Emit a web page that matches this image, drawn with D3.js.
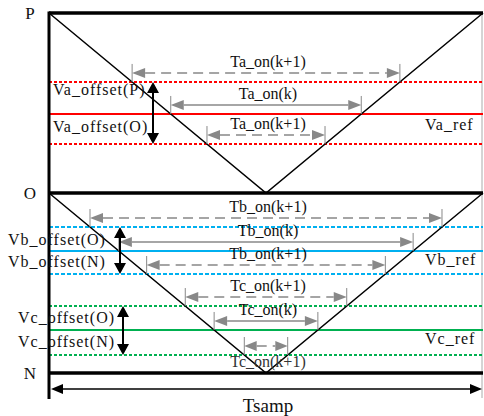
<!DOCTYPE html>
<html>
<head>
<meta charset="utf-8">
<script src="https://cdn.jsdelivr.net/npm/d3@7"></script>
<style>
  body { margin: 0; background: #fff; }
  svg { display: block; }
  text { font-family: "Liberation Serif", "Times New Roman", serif; fill: #111; }
</style>
</head>
<body>
<div id="chart"></div>
<script>
// --- data ---
const levelNames = ["P", "O", "N"];
const levelValues = [1, 0, -1];

// two carriers: time points and their voltages
const carrierTimes = [0, 0.5, 1];
const carrierUpper = [1, 0, 1];   // between P and O
const carrierLower = [0, -1, 0];  // between O and N

const phases = ["a", "b", "c"];
const refLevels = [0.439, -0.322, -0.761];
const offsetHigh = [0.617, -0.189, -0.628];
const offsetLow = [0.272, -0.45, -0.9];
const refLabels = ["Va_ref", "Vb_ref", "Vc_ref"];
const offsetLabels = [
  ["Va_offset(P)", "Va_offset(O)"],
  ["Vb_offset(O)", "Vb_offset(N)"],
  ["Vc_offset(O)", "Vc_offset(N)"]
];
const onLabels = [
  ["Ta_on(k+1)", "Ta_on(k)", "Ta_on(k+1)"],
  ["Tb_on(k+1)", "Tb_on(k)", "Tb_on(k+1)"],
  ["Tc_on(k+1)", "Tc_on(k)", "Tc_on(k+1)"]
];
const timeLabel = "Tsamp";

// --- layout / style ---
const width = 484, height = 416;
const colors = ["#ff0000", "#00b0f0", "#00b050"];
const dotPattern = ["3,2", "4,2", "3,2"];
const phaseCarrier = [carrierUpper, carrierLower, carrierLower];
const offsetLabelX = [53, 8, 18];
const offsetLabelDy = [[-19, 18], [-6, 16], [-7, 17]];
const doubleArrowX = [153, 120, 123];
const gray = "#888888";

const x = d3.scaleLinear().domain([0, 1]).range([49, 483]);
const y = d3.scaleLinear().domain([-1, 1]).range([373, 13]);

const svg = d3.select("#chart").append("svg")
  .attr("width", width).attr("height", height);

// right thin gray border
svg.append("line")
  .attr("x1", 482).attr("x2", 482)
  .attr("y1", y(1)).attr("y2", 398)
  .attr("stroke", "#aaa").attr("stroke-width", 1);

// crossing times of a level with a carrier (linear segments)
function crossings(carrier, v) {
  const out = [];
  for (let i = 0; i < carrierTimes.length - 1; i++) {
    const a = carrier[i], b = carrier[i + 1];
    if ((v - a) * (v - b) <= 0 && a !== b) {
      out.push(carrierTimes[i] + (v - a) / (b - a) * (carrierTimes[i + 1] - carrierTimes[i]));
    }
  }
  return out;
}

function head(px, py, dir, len, half) {
  // dir = +1 points right, -1 points left
  return `M${px},${py}L${px - dir * len},${py - half}L${px - dir * len},${py + half}Z`;
}

// reference and offset lines
phases.forEach((p, i) => {
  const g = svg.append("g");
  [offsetHigh[i], offsetLow[i]].forEach(v => {
    g.append("line")
      .attr("x1", x(0)).attr("x2", x(1))
      .attr("y1", y(v)).attr("y2", y(v))
      .attr("stroke", colors[i]).attr("stroke-width", 2)
      .attr("stroke-dasharray", dotPattern[i]);
  });
  g.append("line")
    .attr("x1", x(0)).attr("x2", x(1))
    .attr("y1", y(refLevels[i])).attr("y2", y(refLevels[i]))
    .attr("stroke", colors[i]).attr("stroke-width", 2);
});

// carriers
const carrierLine = d3.line().x(d => x(d[0])).y(d => y(d[1]));
[carrierUpper, carrierLower].forEach(c => {
  svg.append("path")
    .attr("d", carrierLine(carrierTimes.map((t, j) => [t, c[j]])))
    .attr("fill", "none").attr("stroke", "#000").attr("stroke-width", 1.5);
});

// thick level lines P, O, N
levelValues.forEach((v, i) => {
  svg.append("line")
    .attr("x1", x(0)).attr("x2", x(1))
    .attr("y1", y(v)).attr("y2", y(v))
    .attr("stroke", "#000").attr("stroke-width", 3.5);
  svg.append("text")
    .attr("x", 30).attr("y", y(v) + 6)
    .attr("text-anchor", "middle")
    .style("font-size", "17px")
    .text(levelNames[i]);
});

// left axis line
svg.append("line")
  .attr("x1", x(0)).attr("x2", x(0))
  .attr("y1", y(1) - 1.5).attr("y2", 399)
  .attr("stroke", "#000").attr("stroke-width", 3);

// on-time arrows
phases.forEach((p, i) => {
  const levels = [offsetHigh[i], refLevels[i], offsetLow[i]];
  levels.forEach((v, k) => {
    const [t1, t2] = crossings(phaseCarrier[i], v);
    const x1 = x(t1), x2 = x(t2);
    const ly = y(v);
    const ay = ly - 9;
    const g = svg.append("g");
    [x1, x2].forEach(xx => {
      g.append("line")
        .attr("x1", xx).attr("x2", xx)
        .attr("y1", ay - 9).attr("y2", ly)
        .attr("stroke", gray).attr("stroke-width", 1);
    });
    const hl = Math.min(13, (x2 - x1) / 3.5);
    g.append("line")
      .attr("x1", x1 + hl).attr("x2", x2 - hl)
      .attr("y1", ay).attr("y2", ay)
      .attr("stroke", gray).attr("stroke-width", 1.5)
      .attr("stroke-dasharray", k === 1 ? null : "10,6");
    g.append("path").attr("d", head(x1, ay, -1, hl, 5)).attr("fill", gray);
    g.append("path").attr("d", head(x2, ay, 1, hl, 5)).attr("fill", gray);

    const below = (i === 2 && k === 2);
    g.append("text")
      .attr("x", below ? (x1 + x2) / 2 + 2 : x(0.5) + 2)
      .attr("y", below ? ly + 12 : ay - 6)
      .attr("text-anchor", "middle")
      .style("font-size", "16px")
      .style("fill", below ? "#333" : "#111")
      .text(onLabels[i][k]);
  });
});

// offset labels, double arrows, ref labels
phases.forEach((p, i) => {
  const yr = y(refLevels[i]);
  offsetLabels[i].forEach((lab, k) => {
    svg.append("text")
      .attr("x", offsetLabelX[i]).attr("y", yr + offsetLabelDy[i][k])
      .style("font-size", "16px")
      .style("letter-spacing", "1px")
      .text(lab);
  });
  const xa = doubleArrowX[i];
  const yt = y(offsetHigh[i]), yb = y(offsetLow[i]);
  svg.append("line")
    .attr("x1", xa).attr("x2", xa)
    .attr("y1", yt + 8).attr("y2", yb - 8)
    .attr("stroke", "#000").attr("stroke-width", 2);
  svg.append("path")
    .attr("d", `M${xa},${yt}L${xa - 6},${yt + 11}L${xa + 6},${yt + 11}Z` +
               `M${xa},${yb}L${xa - 6},${yb - 11}L${xa + 6},${yb - 11}Z`)
    .attr("fill", "#000");
  svg.append("text")
    .attr("x", 425).attr("y", yr + (i === 0 ? 16 : 14))
    .style("font-size", "16px")
    .style("letter-spacing", "1px")
    .text(refLabels[i]);
});

// Tsamp arrow
const ty = 389;
svg.append("line")
  .attr("x1", x(0) + 10).attr("x2", x(1) - 10)
  .attr("y1", ty).attr("y2", ty)
  .attr("stroke", "#000").attr("stroke-width", 1.5);
svg.append("path")
  .attr("d", head(x(0) + 2, ty, -1, 12, 5) + head(x(1) - 1, ty, 1, 12, 5))
  .attr("fill", "#000");
svg.append("text")
  .attr("x", x(0.5) + 2).attr("y", 412)
  .attr("text-anchor", "middle")
  .style("font-size", "19px")
  .text(timeLabel);
</script>
</body>
</html>
